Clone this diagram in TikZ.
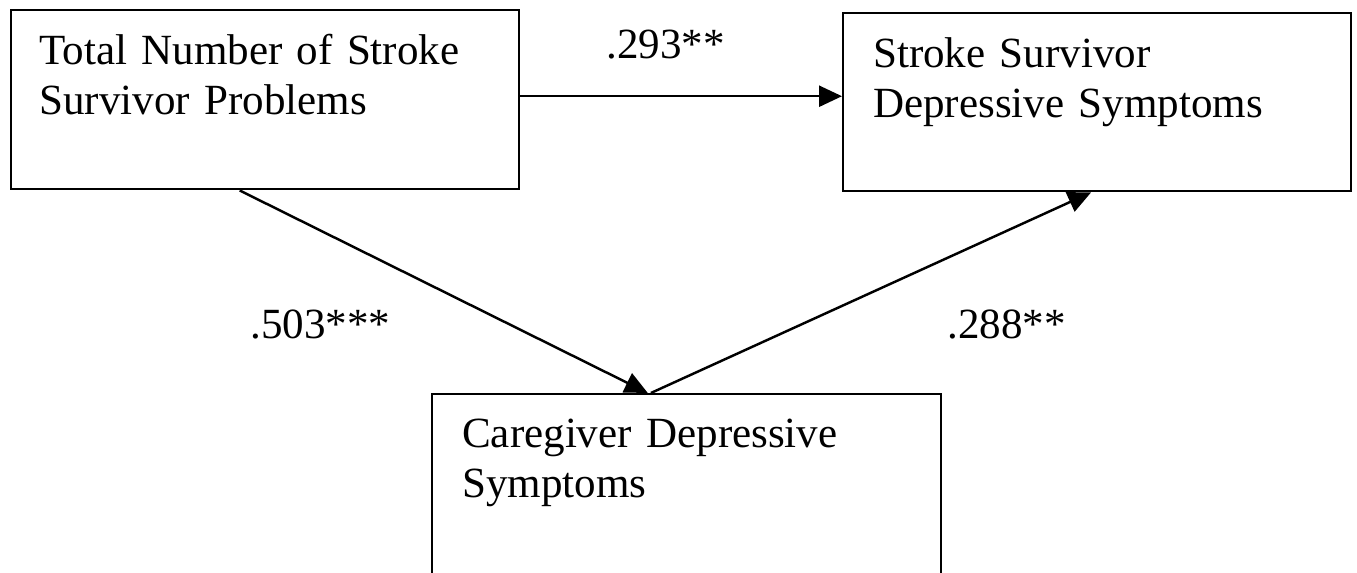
\documentclass[tikz,border=0pt]{standalone}
\usepackage{fontspec}
\setmainfont{Liberation Serif}
\usetikzlibrary{positioning, arrows.meta, calc}

\begin{document}
\begin{tikzpicture}[
        x=0.02cm, y=-0.02cm,
        >={Triangle[length=0.46cm, width=0.42cm]},
        box/.style={
            draw=black,
            line width=1.4pt,
            inner sep=0pt,
            align=left,
            anchor=north west,
            font=\fontsize{24.5}{28.5}\selectfont
        },
        conn/.style={->, line width=1.4pt},
        coef/.style={anchor=base west, inner sep=0pt, font=\fontsize{24.5}{28.5}\selectfont}
    ]
        \useasboundingbox (0,0) rectangle (1357,572);
        \clip (0,0) rectangle (1357,572);

        % Boxes
        \node[box, inner xsep=0.56cm, text width=9.04cm, text height=1.08cm, text depth=2.5cm] (tot) at (10,9)
            {Total Number of Stroke\\Survivor Problems};
        \node[box, inner xsep=0.6cm, text width=8.96cm, text height=1.08cm, text depth=2.48cm] (ssd) at (842,12)
            {Stroke Survivor\\Depressive Symptoms};
        \node[box, inner xsep=0.6cm, text width=8.98cm, text height=1.06cm, text depth=3.2cm] (cgd) at (431,393)
            {Caregiver Depressive\\Symptoms};

        % Paths
        \draw[conn] ([yshift=0.07cm]tot.east) -- ([yshift=0.07cm]tot.east -| ssd.west);
        \draw[conn] ($(tot.south west)!.45!(tot.south east)$) -- ($(cgd.north west)!.424!(cgd.north east)$);
        \draw[conn] ($(cgd.north west)!.43!(cgd.north east)$) -- ($(ssd.south west)!.488!(ssd.south east)$);

        % Coefficients
        \node[coef] (c1) at (606,58) {.293**};
        \node[coef] (c2) at (250,338) {.503***};
        \node[coef] (c3) at (947,338) {.288**};
    \end{tikzpicture}
\end{document}
